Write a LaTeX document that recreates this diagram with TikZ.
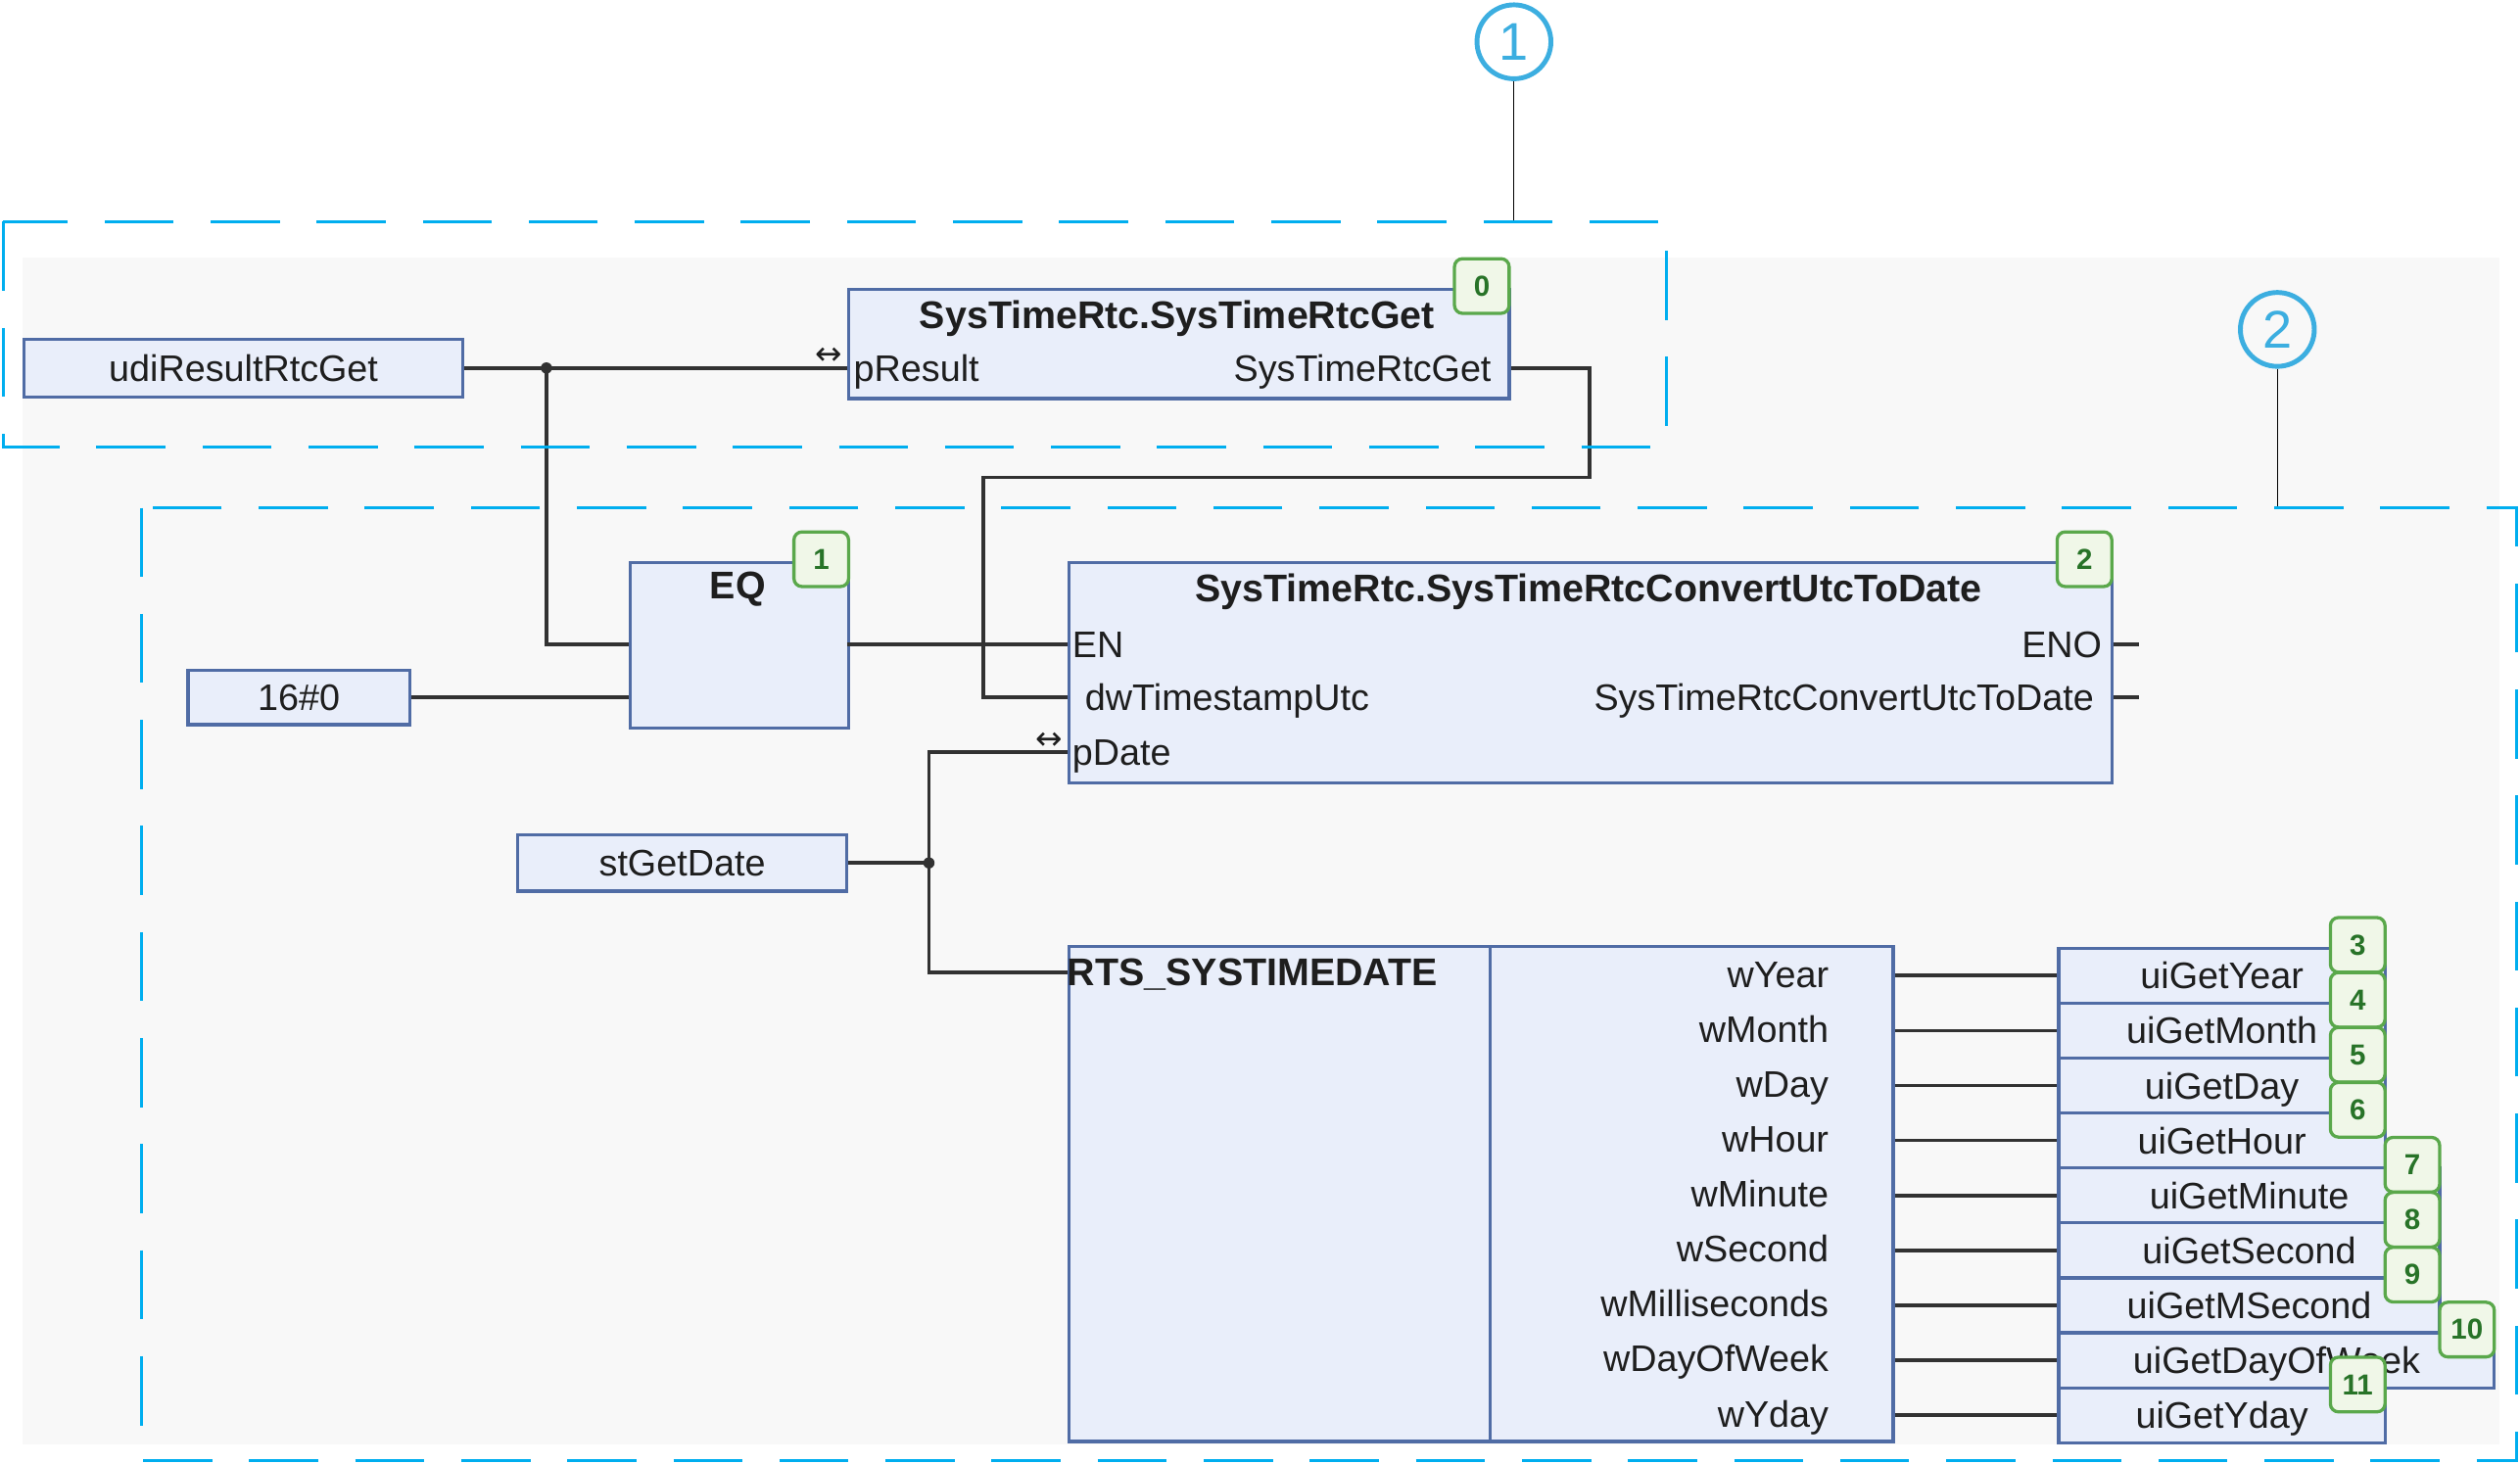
\documentclass[tikz,border=0pt]{standalone}
\usepackage{fontspec}
\setmainfont{Liberation Sans}
\newfontfamily\arrowfont{DejaVu Sans}

\definecolor{bgcol}{RGB}{248,248,248}
\definecolor{blockfill}{RGB}{233,238,250}
\definecolor{blockline}{RGB}{80,108,165}
\definecolor{badgefill}{RGB}{240,247,232}
\definecolor{badgeline}{RGB}{90,168,75}
\definecolor{badgetext}{RGB}{40,115,40}
\definecolor{wirecol}{RGB}{50,50,50}
\definecolor{pintext}{RGB}{30,30,30}
\definecolor{zonecol}{RGB}{0,174,239}
\definecolor{callcol}{RGB}{60,174,224}

\newcommand{\pinsize}{\fontsize{23}{27}\selectfont}
\newcommand{\titlesize}{\fontsize{24}{28}\selectfont\bfseries}

\tikzset{
  blockbox/.style={draw=blockline, fill=blockfill, line width=2pt, anchor=north west, inner sep=0pt},
  varbox/.style={draw=blockline, fill=blockfill, line width=2pt, inner sep=0pt, font=\pinsize, text=pintext, text height=16.5pt, text depth=0pt},
  blocktitle/.style={font=\titlesize, text=pintext, inner sep=0pt, text height=17pt, text depth=0pt},
  portleft/.style={anchor=west, font=\pinsize, text=pintext, inner sep=0pt, text height=16.5pt, text depth=0pt},
  portright/.style={anchor=east, font=\pinsize, text=pintext, inner sep=0pt, text height=16.5pt, text depth=0pt},
  badge/.style={draw=badgeline, fill=badgefill, line width=2pt, rounded corners=5pt, minimum width=34pt, minimum height=34pt, inner sep=0pt, anchor=north east, text=badgetext, font=\fontsize{18}{20}\selectfont\bfseries},
  wire/.style={draw=wirecol, line width=2.2pt},
  divider/.style={draw=blockline, line width=2pt},
  inout/.style={font=\arrowfont\fontsize{20}{20}\selectfont, text=pintext, inner sep=0pt},
  zone/.style={draw=zonecol, line width=1.8pt, dash pattern=on 43pt off 23pt},
  callnum/.style={circle, draw=callcol, line width=3pt, minimum size=46pt, inner sep=0pt, text=callcol, font=\fontsize{33}{33}\selectfont},
  leader/.style={draw=black, line width=0.8pt},
}

\begin{document}
\begin{tikzpicture}[x=1pt,y=-1pt]
    \useasboundingbox (0,0) rectangle (1568,911);
    \fill[bgcol] (14,160) rectangle (1555,899);

    % callouts
    \node[callnum] (c1) at (942,26) {1};
    \node[callnum] (c2) at (1417,205) {2};
    \coordinate (z1) at (942,138);
    \coordinate (z2) at (1417,316);
    \draw[leader] (c1) -- (z1);
    \draw[leader] (c2) -- (z2);

    % read the clock
    \node[varbox, minimum width=273pt, minimum height=36pt] (udi) at (151.5,229) {udiResultRtcGet};
    \node[blockbox, minimum width=411pt, minimum height=68pt] (rtcget) at (527,179) {};
    \node[blocktitle] at (732.5,196) {SysTimeRtc.SysTimeRtcGet};
    \node[portleft] (ires) at (531,229) {pResult};
    \node[portright] (oget) at (928,229) {SysTimeRtcGet};
    \node[inout] at (516,222) {↔};
    \node[badge] at ([yshift=19pt]rtcget.north east) {0};
    \coordinate (jres) at (340,229);
    \draw[wire] (udi) -- (rtcget.west |- udi);
    \fill[wirecol] (jres) circle (3.5pt);

    % compare
    \node[blockbox, minimum width=136pt, minimum height=103pt] (eq) at (391,349) {};
    \node[blocktitle] at (459,364) {EQ};
    \node[badge] at ([yshift=19pt]eq.north east) {1};
    \node[varbox, minimum width=138pt, minimum height=34pt] (hex) at (186,434) {16\#0};
    \coordinate (eqa) at (391,401);
    \coordinate (eqb) at (391,434);
    \coordinate (eqq) at (527,401);
    \draw[wire] (jres) |- (eqa);
    \draw[wire] (hex) -- (eqb);

    % convert
    \node[blockbox, minimum width=649pt, minimum height=137pt] (conv) at (664,349) {};
    \node[blocktitle] at (988.5,366) {SysTimeRtc.SysTimeRtcConvertUtcToDate};
    \node[badge] at ([yshift=19pt]conv.north east) {2};
    \node[portleft] (ien) at (667,401) {EN};
    \node[portleft] (idw) at (675,434) {dwTimestampUtc};
    \node[portleft] (idate) at (667,468) {pDate};
    \node[portright] (oeno) at (1308,401) {ENO};
    \node[portright] (oconv) at (1303,434) {SysTimeRtcConvertUtcToDate};
    \node[inout] at (653,461) {↔};
    \coordinate (enoend) at (1331,401);
    \coordinate (convend) at (1331,434);
    \draw[wire] (conv.east |- oeno) -- (enoend);
    \draw[wire] (conv.east |- oconv) -- (convend);
    \draw[wire] (eqq) -- (conv.west |- ien);
    \draw[wire] (rtcget.east |- oget) -| (989,297) -| (612,434) -- (conv.west |- idw);

    % date structure
    \node[varbox, minimum width=205pt, minimum height=35pt] (stget) at (424.5,537) {stGetDate};
    \node[blockbox, minimum width=513pt, minimum height=308pt] (rts) at (664,588) {};
    \draw[divider] (927,588) -- (927,896);
    \node[blocktitle, anchor=west] (rtstitle) at (664,605) {RTS\_SYSTIMEDATE};
    \coordinate (jdate) at (578,537);
    \draw[wire] (stget) -- (jdate);
    \draw[wire] (conv.west |- idate) -| (jdate) |- (rts.west |- rtstitle);
    \fill[wirecol] (jdate) circle (3.5pt);

    \foreach \pinname/\varname/\rx [count=\i from 0] in {wYear/uiGetYear/1483, wMonth/uiGetMonth/1483, wDay/uiGetDay/1483, wHour/uiGetHour/1483, wMinute/uiGetMinute/1517, wSecond/uiGetSecond/1517, wMilliseconds/uiGetMSecond/1517, wDayOfWeek/uiGetDayOfWeek/1551, wYday/uiGetYday/1483}
    {
        \pgfmathsetmacro\ytop{589+34.2*\i}
        \pgfmathsetmacro\bw{\rx-1280}
        \pgfmathtruncatemacro\num{\i+3}
        \node[portright] (out\i) at (1138,\ytop+17.1) {\pinname};
        \node[varbox, anchor=north west, minimum width=\bw pt, minimum height=34.2pt] (var\i) at (1280,\ytop) {\varname};
        \draw[wire] (rts.east |- var\i.west) -- (var\i.west);
        \node[badge] at ([yshift=19pt]var\i.north east) {\num};
    }

    % zones
    \draw[zone] (2,138) rectangle (1037,278);
    \draw[zone] (88,316) rectangle (1566,909);
\end{tikzpicture}
\end{document}
